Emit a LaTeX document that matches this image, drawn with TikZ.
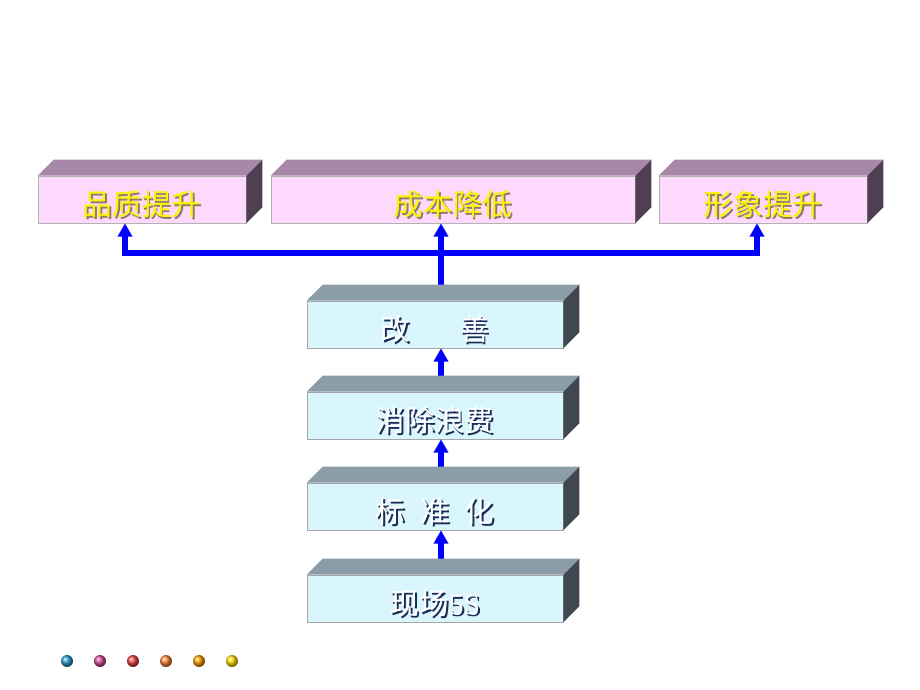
\documentclass[tikz,border=0pt]{standalone}
\usepackage{fontspec}
\setmainfont{Liberation Serif}
\newfontfamily\cjk{Noto Sans CJK SC}
\usetikzlibrary{arrows.meta,calc}

\definecolor{goalfront}{HTML}{FDD9FD}
\definecolor{goaltop}{HTML}{A888A8}
\definecolor{goalside}{HTML}{4F3F52}
\definecolor{goalshade}{HTML}{8C7C64}
\definecolor{stepfront}{HTML}{D8F6FC}
\definecolor{steptop}{HTML}{8A9DA8}
\definecolor{stepside}{HTML}{3F4850}
\definecolor{stepshade}{HTML}{1C2A58}
\definecolor{dotA}{HTML}{2A9CD0}
\definecolor{dotB}{HTML}{D04C98}
\definecolor{dotC}{HTML}{E84040}
\definecolor{dotD}{HTML}{F88438}
\definecolor{dotE}{HTML}{FF9C00}
\definecolor{dotF}{HTML}{FFE000}

% text with a small drop shadow
\newcommand{\shtxt}[3]{\rlap{\kern1.3pt\raisebox{-1.3pt}{\textcolor{#2}{#3}}}\textcolor{#1}{#3}}

\begin{document}
\begin{tikzpicture}[x=0.025cm, y=-0.025cm,
    goalbox/.style={draw=gray!60, fill=goalfront, minimum height=1.175cm, inner sep=0pt,
        text height=23pt, text depth=0pt, font=\cjk\fontsize{21}{21}\selectfont},
    stepbox/.style={draw=gray!70, fill=stepfront, minimum width=6.4cm, minimum height=1.175cm,
        inner sep=0pt, text height=23pt, text depth=0pt, font=\cjk\fontsize{21}{21}\selectfont},
    flow/.style={blue, line width=3.8pt},
    up/.style={flow, -{Triangle[width=10pt,length=9.5pt]}}]

    \useasboundingbox (0,0) rectangle (920,690);

    %% Goals on top
    \node[goalbox, minimum width=5.2cm] (pinzhi) at (142,199.5) {\shtxt{yellow}{goalshade}{品质提升}};
    \node[goalbox, minimum width=9.1cm] (chengben) at (453,199.5) {\shtxt{yellow}{goalshade}{成本降低}};
    \node[goalbox, minimum width=5.2cm] (xingxiang) at (763,199.5) {\shtxt{yellow}{goalshade}{形象提升}};

    %% Steps from the bottom up
    \node[stepbox] (gaishan) at (435,324.5) {\shtxt{white}{stepshade}{改\hspace{1.7em}善}};
    \node[stepbox] (xiaochu) at (435,415.5) {\shtxt{white}{stepshade}{消除浪费}};
    \node[stepbox] (biaozhun) at (435,506.5) {\shtxt{white}{stepshade}{标\hspace{0.5em}准\hspace{0.5em}化}};
    \node[stepbox] (xianchang) at (435,598.5) {\shtxt{white}{stepshade}{现场{\rmfamily 5S}}};

    % arrow columns
    \coordinate (cl) at (125,0);
    \coordinate (cm) at (441,0);
    \coordinate (cr) at (757,0);
    \coordinate (fork) at (441,253);

    % Arrows between steps (they start under the top faces)
    \draw[up] ($(xianchang.north -| cm)+(0,-4)$) -- (biaozhun.south -| cm);
    \draw[up] ($(biaozhun.north -| cm)+(0,-4)$) -- (xiaochu.south -| cm);
    \draw[up] ($(xiaochu.north -| cm)+(0,-4)$) -- (gaishan.south -| cm);

    % Fork up to the goals
    \draw[flow] ($(gaishan.north -| cm)+(0,-4)$) -- (fork);
    \draw[up] (fork) -- (chengben.south -| cm);
    \draw[up] (fork) -| (pinzhi.south -| cl);
    \draw[up] (fork) -| (xingxiang.south -| cr);

    % Top and side faces
    \foreach \b in {pinzhi,chengben,xingxiang}{
        \fill[goaltop] (\b.north west) -- ++(16,-16) -- ([shift={(16,-16)}]\b.north east) -- (\b.north east) -- cycle;
        \fill[goalside] (\b.north east) -- ++(16,-16) -- ([shift={(16,-16)}]\b.south east) -- (\b.south east) -- cycle;
    }
    \foreach \b in {gaishan,xiaochu,biaozhun,xianchang}{
        \fill[steptop] (\b.north west) -- ++(16,-16) -- ([shift={(16,-16)}]\b.north east) -- (\b.north east) -- cycle;
        \fill[stepside] (\b.north east) -- ++(16,-16) -- ([shift={(16,-16)}]\b.south east) -- (\b.south east) -- cycle;
    }

    % Coloured dots
    \foreach \x/\c in {67/dotA,100/dotB,133/dotC,166/dotD,199/dotE,232/dotF}
        \shade[ball color=\c] (\x,661) circle (6);

\end{tikzpicture}
\end{document}
